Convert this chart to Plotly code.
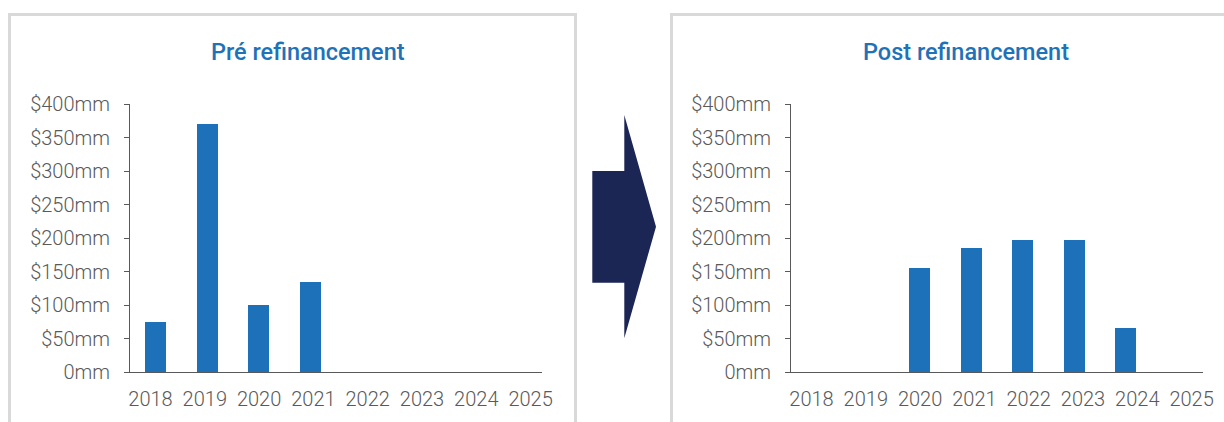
import plotly.graph_objects as go

# ---- data ----
years = [2018, 2019, 2020, 2021, 2022, 2023, 2024, 2025]
pre_values = [75, 370, 100, 135, 0, 0, 0, 0]
post_values = [0, 0, 155, 185, 197, 197, 65, 0]
y_ticks = [0, 50, 100, 150, 200, 250, 300, 350, 400]
y_tick_labels = ["0mm", "$50mm", "$100mm", "$150mm", "$200mm", "$250mm", "$300mm", "$350mm", "$400mm"]
titles = ["Pré refinancement", "Post refinancement"]

W, H = 1224, 422
BAR = "#1c71b8"
GRAY = "#595959"
BORDER = "#d9d9d9"
NAVY = "#1c2654"


def px(x):
    return x / W


def py(y):
    return (H - y) / H


fig = go.Figure()
fig.add_trace(go.Bar(x=years, y=pre_values, width=0.41, marker_color=BAR,
                     xaxis="x", yaxis="y", showlegend=False))
fig.add_trace(go.Bar(x=years, y=post_values, width=0.41, marker_color=BAR,
                     xaxis="x2", yaxis="y2", showlegend=False))

# tick label positions (labels are spread slightly wider than the bars)
cat_w = 51.5
label_pos = [years[0] - 0.5 + (20.5 + 54.3 * i) / cat_w for i in range(len(years))]

tickfont = dict(family="Roboto", size=20, color=GRAY, weight=300)

xcommon = dict(range=[years[0] - 0.5, years[-1] + 0.5], tickmode="array",
               tickvals=label_pos, ticktext=[str(y) for y in years],
               showline=True, linecolor=GRAY, linewidth=1, ticks="",
               showgrid=False, zeroline=False, tickfont=tickfont,
               ticklabelstandoff=9, fixedrange=True, automargin=False)
ycommon = dict(range=[0, 400], tickmode="array", tickvals=y_ticks,
               ticktext=y_tick_labels, showline=True, linecolor=GRAY,
               linewidth=1, ticks="outside", ticklen=5, tickcolor=GRAY,
               showgrid=False, zeroline=False, tickfont=tickfont,
               ticklabelstandoff=10, fixedrange=True, automargin=False)

ydom = [py(372), py(104)]
fig.update_layout(
    template="none",
    width=W, height=H, autosize=False,
    margin=dict(l=0, r=0, t=0, b=0, pad=0, autoexpand=False),
    paper_bgcolor="white", plot_bgcolor="white",
    xaxis=dict(domain=[px(130), px(542)], anchor="y", **xcommon),
    yaxis=dict(domain=ydom, anchor="x", **ycommon),
    xaxis2=dict(domain=[px(791), px(1203)], anchor="y2", **xcommon),
    yaxis2=dict(domain=ydom, anchor="x2", **ycommon),
    bargap=0,
)

# panel borders
fig.add_shape(type="path", xref="paper", yref="paper",
              path=f"M {px(9.5)} {py(440)} L {px(9.5)} {py(14.5)} L {px(575.5)} {py(14.5)} L {px(575.5)} {py(440)}",
              line=dict(color=BORDER, width=3), layer="below")
fig.add_shape(type="path", xref="paper", yref="paper",
              path=f"M {px(671.5)} {py(440)} L {px(671.5)} {py(14.5)} L {px(1240)} {py(14.5)}",
              line=dict(color=BORDER, width=3), layer="below")

# arrow
pts = [(592.3, 171), (624.3, 171), (624.3, 115), (656, 226.7), (624.3, 338.3), (624.3, 282.7), (592.3, 282.7)]
path = "M " + " L ".join(f"{px(x)} {py(y)}" for x, y in pts) + " Z"
fig.add_shape(type="path", xref="paper", yref="paper", path=path,
              fillcolor=NAVY, line=dict(width=0))

# titles
for t, cx in zip(titles, [307.5, 966]):
    fig.add_annotation(text=t, x=px(cx), y=py(52), xref="paper", yref="paper",
                       showarrow=False, xanchor="center", yanchor="middle",
                       font=dict(family="Roboto", size=23.5, color="#1f72b8", weight=500))

fig.write_html("out.html")
